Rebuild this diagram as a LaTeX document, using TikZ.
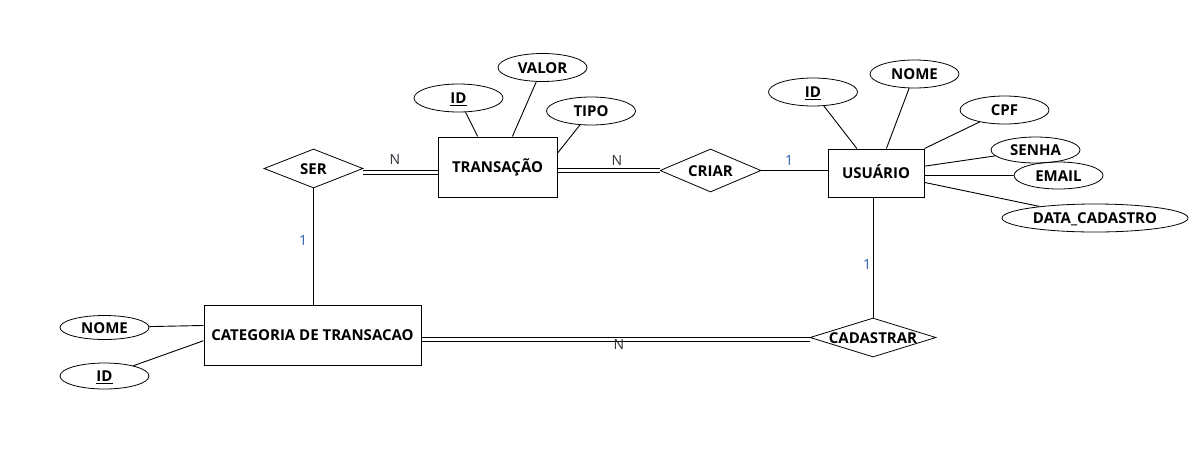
\documentclass[tikz,border=0pt]{standalone}
\usepackage{fontspec}
\setmainfont{Open Sans}
\usepackage{tikz}
\usetikzlibrary{shapes.geometric}
\definecolor{cardblue}{HTML}{2A5CAA}
\definecolor{carddark}{HTML}{30323C}
\tikzstyle{entity} = [draw, rectangle, line width=1pt, inner sep=0pt, text height=11pt, text depth=0pt, font=\fontsize{15}{18}\selectfont\bfseries]
\tikzstyle{attrib} = [draw, ellipse, line width=0.8pt, inner sep=0pt, minimum width=89, minimum height=28, text height=11pt, text depth=0pt, font=\fontsize{15}{18}\selectfont\bfseries]
\tikzstyle{rel} = [draw, diamond, line width=0.8pt, inner sep=0pt, aspect=2.5, label={[font=\fontsize{15}{18}\selectfont\bfseries, text height=11pt, text depth=0pt]center:#1}]
\tikzstyle{link} = [line width=0.9pt]
\tikzstyle{dbl} = [line width=1pt, double, double distance=3.3pt]
\tikzstyle{card} = [font=\fontsize{14}{16}\selectfont, text height=10pt, text depth=0pt, inner sep=0pt]

\begin{document}
\begin{tikzpicture}[x=1pt, y=-1pt]
\useasboundingbox (0,0) rectangle (1201,456);
\fill[white] (0,0) rectangle (1201,456);

% entities
\node[entity, minimum width=119, minimum height=60] (tr) at (497.5,167) {TRANSAÇÃO};
\node[entity, minimum width=96, minimum height=48] (us) at (876,173) {USUÁRIO};
\node[entity, minimum width=217, minimum height=60] (cat) at (312.5,335) {CATEGORIA DE TRANSACAO};

% relationships
\node[rel=SER, minimum width=99, minimum height=39] (ser) at (313.5,168.5) {};
\node[rel=CRIAR, minimum width=101, minimum height=43] (criar) at (710.5,170.5) {};
\node[rel=CADASTRAR, minimum width=126, minimum height=39] (cad) at (873,337.5) {};

% attributes of transacao
\node[attrib] (trid) at (458.5,98) {\underline{ID}};
\node[attrib] (trvalor) at (542.5,67.5) {VALOR};
\node[attrib] (trtipo) at (591,111) {TIPO};
\draw[link] (trid) -- (tr.123);
\draw[link] (trvalor) -- (tr.64);
\draw[link] (trtipo) -- (tr.13);

% attributes of usuario
\node[attrib] (usid) at (813,92) {\underline{ID}};
\node[attrib] (usnome) at (914.5,74) {NOME};
\node[attrib] (uscpf) at (1004.5,110) {CPF};
\node[attrib, minimum height=26] (ussenha) at (1035.5,150) {SENHA};
\node[attrib, minimum height=27] (usemail) at (1058.5,175.5) {EMAIL};
\node[attrib, minimum width=186] (usdata) at (1095,218) {DATA\_CADASTRO};
\draw[link] (usid) -- (us.128);
\draw[link] (usnome) -- (us.67);
\draw[link] (uscpf) -- (us.north east);
\draw[link] (ussenha) -- (us.8);
\draw[link] (usemail) -- (us.-3.6);
\draw[link] (usdata) -- (us.-11.8);

% attributes of categoria
\node[attrib, minimum height=24] (catnome) at (104.5,327.5) {NOME};
\node[attrib, minimum height=26] (catid) at (104.5,376) {\underline{ID}};
\draw[link] (catnome) -- (cat.175.3);
\draw[link] (catid) -- (cat.183.2);

% connections
\draw[dbl] ([yshift=-4pt]ser.east) -- ([yshift=-4pt]ser.east -| tr.west);
\draw[dbl] (tr.east |- criar) -- (criar.west);
\draw[link] (criar.east) -- (criar.east -| us.west);
\draw[link] (ser.south) -- (ser.south |- cat.north);
\draw[link] (cad.north) -- (cad.north |- us.south);
\draw[dbl] ([yshift=-2pt]cad.west) -- ([yshift=-2pt]cad.west -| cat.east);

% cardinalities
\node[card, text=carddark] (cserN) at (395,159) {N};
\node[card, text=carddark] (ccriarN) at (617,160) {N};
\node[card, text=cardblue] (ccriar1) at (789,160) {1};
\node[card, text=cardblue] (cser1) at (303,240) {1};
\node[card, text=cardblue] (ccad1) at (867,264) {1};
\node[card, text=carddark] (ccadN) at (619,344) {N};
\end{tikzpicture}
\end{document}
